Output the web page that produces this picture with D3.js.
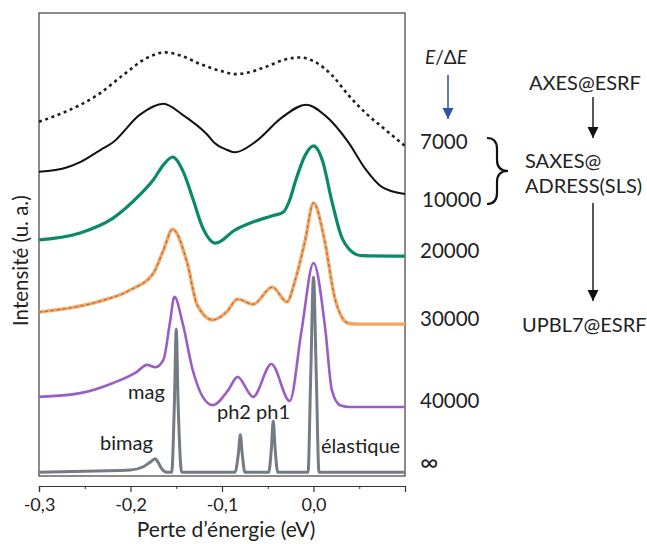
<!DOCTYPE html>
<html>
<head>
<meta charset="utf-8">
<script src="https://cdn.jsdelivr.net/npm/d3@7"></script>
<style>
  body { margin: 0; background: #fff; }
  text { font-family: Lato, "Open Sans", sans-serif; fill: #222; }
</style>
</head>
<body>
<svg id="chart" width="647" height="544"></svg>
<script>
// energy loss (eV), intensity (arb. units, curves already offset)
const spectrum7000 = [[-0.300,7.65],[-0.272,7.86],[-0.236,8.23],[-0.208,8.66],[-0.182,9.03],[-0.162,9.15],[-0.145,9.08],[-0.124,8.90],[-0.100,8.74],[-0.086,8.68],[-0.070,8.72],[-0.053,8.83],[-0.030,9.00],[-0.015,9.04],[0.002,8.94],[0.020,8.66],[0.038,8.23],[0.057,7.84],[0.076,7.52],[0.100,7.13]];
const spectrum10000 = [[-0.300,6.57],[-0.269,6.67],[-0.255,6.78],[-0.233,7.04],[-0.219,7.21],[-0.190,7.80],[-0.164,8.04],[-0.143,7.80],[-0.116,7.37],[-0.108,7.19],[-0.094,7.04],[-0.086,6.99],[-0.064,7.21],[-0.034,7.75],[-0.008,8.02],[0.012,7.80],[0.038,7.21],[0.056,6.65],[0.075,6.24],[0.100,6.09]];
const spectrum20000 = [[-0.300,5.10],[-0.255,5.25],[-0.219,5.57],[-0.190,6.07],[-0.175,6.40],[-0.164,6.72],[-0.154,6.89],[-0.143,6.60],[-0.132,6.00],[-0.121,5.36],[-0.107,5.03],[-0.086,5.31],[-0.064,5.50],[-0.045,5.62],[-0.033,5.70],[-0.026,5.96],[-0.020,6.35],[-0.009,6.93],[0.000,7.13],[0.010,6.80],[0.020,5.94],[0.030,5.20],[0.040,4.88],[0.052,4.76],[0.100,4.75]];
const spectrum30000 = [[-0.300,3.54],[-0.236,3.76],[-0.200,4.02],[-0.175,4.38],[-0.164,4.88],[-0.154,5.33],[-0.138,4.60],[-0.127,3.69],[-0.110,3.37],[-0.095,3.54],[-0.083,3.82],[-0.066,3.71],[-0.045,4.08],[-0.029,3.76],[-0.020,4.23],[-0.009,5.10],[0.000,5.90],[0.012,5.10],[0.023,3.87],[0.031,3.43],[0.038,3.30],[0.050,3.28],[0.100,3.28]];
const spectrum40000 = [[-0.300,1.71],[-0.255,1.79],[-0.219,2.01],[-0.193,2.25],[-0.182,2.40],[-0.173,2.35],[-0.164,2.51],[-0.157,3.30],[-0.152,3.87],[-0.143,3.30],[-0.132,2.29],[-0.121,1.71],[-0.110,1.53],[-0.093,1.86],[-0.083,2.14],[-0.066,1.71],[-0.046,2.42],[-0.026,1.62],[-0.013,3.15],[0.000,4.60],[0.013,3.15],[0.020,1.86],[0.029,1.53],[0.040,1.49],[0.100,1.49]];
const spectrumInf = [[-0.300,0.08],[-0.237,0.11],[-0.200,0.13],[-0.186,0.20],[-0.179,0.29],[-0.173,0.37],[-0.170,0.30],[-0.166,0.16],[-0.160,0.08],[-0.155,0.08],[-0.152,1.60],[-0.150,3.17],[-0.148,1.60],[-0.144,0.08],[-0.086,0.08],[-0.082,0.50],[-0.080,0.89],[-0.078,0.50],[-0.075,0.08],[-0.049,0.08],[-0.046,0.60],[-0.044,1.19],[-0.042,0.60],[-0.039,0.08],[-0.006,0.08],[-0.003,2.20],[0.000,4.30],[0.003,2.20],[0.006,0.08],[0.100,0.08]];

const resolutions = ["7000", "10000", "20000", "30000", "40000", "\u221E"];
const energyTicks = [-0.3, -0.2, -0.1, 0.0];
const minorTicks = [-0.25, -0.15, -0.05, 0.05];
const beamlines = ["AXES@ESRF", "SAXES@", "ADRESS(SLS)", "UPBL7@ESRF"];

const svg = d3.select("#chart");
const x = d3.scaleLinear().domain([-0.3, 0.1]).range([39, 405]);
const y = d3.scaleLinear().domain([0, 10]).range([476, 13]);

const line = d3.line()
    .x(d => x(d[0]))
    .y(d => y(d[1]))
    .curve(d3.curveMonotoneX);

// frame
svg.append("rect")
    .attr("x", 39).attr("y", 13)
    .attr("width", 366).attr("height", 463)
    .attr("fill", "none")
    .attr("stroke", "#4a3a3a")
    .attr("stroke-width", 1.2);

// x axis below the frame
const xAxis = svg.append("g")
    .attr("transform", "translate(0,486)")
    .call(d3.axisBottom(x)
        .tickValues(energyTicks)
        .tickSize(6)
        .tickPadding(6)
        .tickFormat(d => d.toFixed(1).replace(".", ",")));
xAxis.select(".domain").attr("stroke", "#333").attr("stroke-width", 1.2);
xAxis.selectAll(".tick line").attr("stroke", "#333").attr("stroke-width", 1.2);
xAxis.selectAll("text")
    .attr("font-size", 18)
    .attr("font-family", "Lato, sans-serif")
    .attr("fill", "#222");

svg.append("g")
    .attr("transform", "translate(0,486)")
    .call(d3.axisBottom(x).tickValues(minorTicks).tickSize(3).tickFormat(""))
    .call(g => g.select(".domain").remove())
    .selectAll(".tick line").attr("stroke", "#333");

// spectra
svg.append("path").datum(spectrum7000)
    .attr("d", line).attr("fill", "none")
    .attr("stroke", "#1e1e1e").attr("stroke-width", 2.6)
    .attr("stroke-dasharray", "3,3.6");

svg.append("path").datum(spectrum10000)
    .attr("d", line).attr("fill", "none")
    .attr("stroke", "#111").attr("stroke-width", 2);

svg.append("path").datum(spectrum20000)
    .attr("d", line).attr("fill", "none")
    .attr("stroke", "#0a8a6a").attr("stroke-width", 3.2);

svg.append("path").datum(spectrum30000)
    .attr("d", line).attr("fill", "none")
    .attr("stroke", "#f6a560").attr("stroke-width", 3.4);
svg.append("path").datum(spectrum30000.filter(d => d[0] <= 0.045))
    .attr("d", line).attr("fill", "none")
    .attr("stroke", "#6a4a3a").attr("stroke-width", 1)
    .attr("stroke-opacity", 0.7)
    .attr("stroke-dasharray", "3,3");

svg.append("path").datum(spectrum40000)
    .attr("d", line).attr("fill", "none")
    .attr("stroke", "#9a5dc8").attr("stroke-width", 2.6);

svg.append("path").datum(spectrumInf)
    .attr("d", line).attr("fill", "none")
    .attr("stroke", "#737b85").attr("stroke-width", 3);

// peak names
const peakLabels = [
    {text: "mag", x: 128, y: 399},
    {text: "bimag", x: 100, y: 450},
    {text: "ph2 ph1", x: 217, y: 419},
    {text: "\u00e9lastique", x: 321, y: 453}
];
svg.append("g").selectAll("text")
    .data(peakLabels)
    .join("text")
    .attr("x", d => d.x).attr("y", d => d.y)
    .attr("font-size", 20)
    .text(d => d.text);

// axis titles
svg.append("text")
    .attr("x", 226).attr("y", 537)
    .attr("text-anchor", "middle")
    .attr("font-size", 21)
    .text("Perte d\u2019\u00e9nergie (eV)");

svg.append("text")
    .attr("transform", "translate(28,326) rotate(-90)")
    .attr("font-size", 20.5)
    .text("Intensit\u00e9 (u. a.)");

// resolution labels
const resY = [149, 207, 258, 326, 408, 471];
svg.append("g").selectAll("text")
    .data(resolutions)
    .join("text")
    .attr("x", (d, i) => i === 1 ? 422 : 420)
    .attr("y", (d, i) => resY[i])
    .attr("font-size", (d, i) => i === 5 ? 25 : 20.5)
    .text(d => d);

const title = svg.append("text")
    .attr("x", 425).attr("y", 64)
    .attr("font-size", 19);
title.append("tspan").attr("font-style", "italic").text("E");
title.append("tspan").text("/\u0394");
title.append("tspan").attr("font-style", "italic").text("E");

// arrows
const defs = svg.append("defs");
function arrowHead(id, color) {
    defs.append("marker")
        .attr("id", id)
        .attr("viewBox", "0 -5 10 10")
        .attr("refX", 10).attr("refY", 0)
        .attr("markerUnits", "userSpaceOnUse")
        .attr("markerWidth", 11).attr("markerHeight", 12)
        .attr("orient", "auto")
        .append("path")
        .attr("d", "M0,-5L10,0L0,5Z")
        .attr("fill", color);
}
arrowHead("blueHead", "#3050a8");
arrowHead("blackHead", "#111");

svg.append("line")
    .attr("x1", 448).attr("y1", 75).attr("x2", 448).attr("y2", 119)
    .attr("stroke", "#3050a8").attr("stroke-width", 1.5)
    .attr("marker-end", "url(#blueHead)");

svg.append("line")
    .attr("x1", 593).attr("y1", 97).attr("x2", 593).attr("y2", 138)
    .attr("stroke", "#111").attr("stroke-width", 1.4)
    .attr("marker-end", "url(#blackHead)");

svg.append("line")
    .attr("x1", 593).attr("y1", 203).attr("x2", 593).attr("y2", 301)
    .attr("stroke", "#111").attr("stroke-width", 1.4)
    .attr("marker-end", "url(#blackHead)");

// brace grouping 7000 and 10000
svg.append("path")
    .attr("d", "M487,138 Q497,138 497,149 L497,160 Q497,171 508,171 Q497,171 497,182 L497,193 Q497,204 487,204")
    .attr("fill", "none")
    .attr("stroke", "#111")
    .attr("stroke-width", 2.2);

// beamline names
const beamPos = [[529, 90], [525, 168], [525, 193], [522, 332]];
svg.append("g").selectAll("text")
    .data(beamlines)
    .join("text")
    .attr("x", (d, i) => beamPos[i][0])
    .attr("y", (d, i) => beamPos[i][1])
    .attr("font-size", 20)
    .text(d => d);
</script>
</body>
</html>
